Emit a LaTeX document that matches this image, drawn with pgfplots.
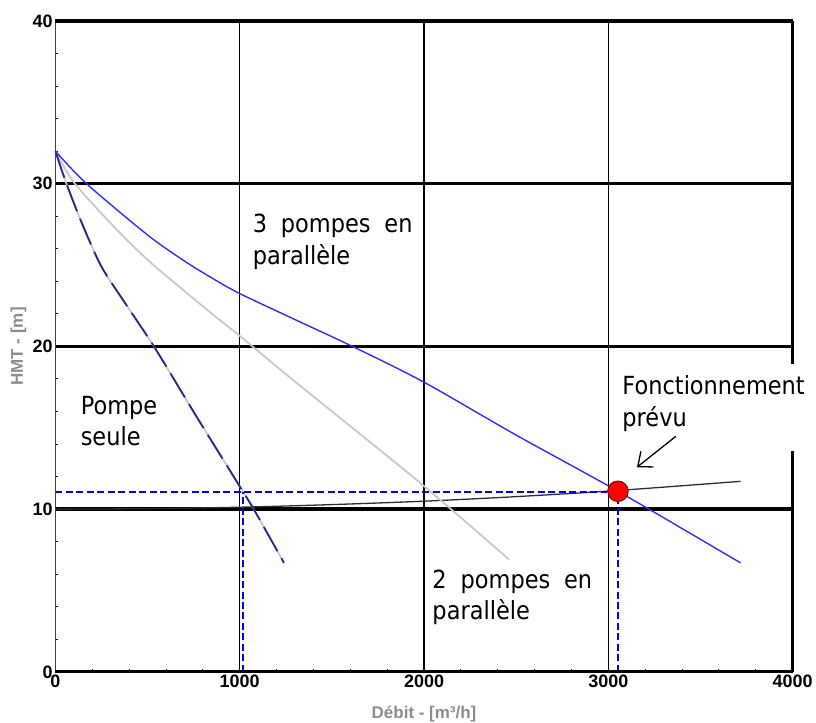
\documentclass[border=0pt]{standalone}
\usepackage{fontspec}
\usepackage{pgfplots}
\pgfplotsset{compat=1.18}
\usetikzlibrary{arrows.meta}
\newfontfamily\lsans{Liberation Sans}
\newfontfamily\annfont[FakeStretch=0.9]{DejaVu Sans}
\definecolor{bluec}{RGB}{45,45,255}
\definecolor{grayc}{RGB}{200,200,200}
\definecolor{navyc}{RGB}{40,40,140}
\definecolor{sysc}{RGB}{45,45,45}
\definecolor{labelgray}{RGB}{140,140,140}
\definecolor{dashblue}{RGB}{0,0,255}
\begin{document}
\begin{tikzpicture}
\path (-55.5pt,-51pt) rectangle (760.5pt,673pt);
\begin{axis}[
  scale only axis, width=738.5pt, height=652pt,
  xmin=0, xmax=4000, ymin=0, ymax=40,
  xtick={0,1000,2000,3000,4000}, xticklabels={0,1000,2000,3000,4000},
  ytick={0,10,20,30,40}, yticklabels={0,10,20,30,40},
  minor x tick num=4, minor y tick num=4,
  xtick pos=bottom, ytick pos=left,
  tick align=inside, major tick length=0pt, minor tick length=3pt,
  tick style={black, line width=1pt},
  axis line style={draw=none},
  ticklabel style={font=\lsans\bfseries\fontsize{18}{18}\selectfont, text=black},
  yticklabel style={inner xsep=2.5pt},
  clip=false,
]
% grid
\draw[black, line width=1.4pt] (1000,0) -- (1000,40);
\draw[black, line width=1.4pt] (3000,0) -- (3000,40);
\draw[black, line width=2.5pt] (2000,0) -- (2000,40);
\draw[black, line width=2.5pt] (0,20) -- (4000,20);
\draw[black, line width=2.5pt] (0,30) -- (4000,30);
\draw[black, line width=3.5pt] (0,10) -- (4000,10);
% system curve
\addplot[sysc, line width=1.3pt, smooth] coordinates {
 (0,10) (500,10.03) (1000,10.12) (1500,10.28) (2000,10.49) (2500,10.77) (3052,11.15) (3717,11.71)};
% 2 pompes en parallele
\addplot[grayc, line width=1.8pt, smooth] coordinates {
 (0,32) (106,30) (331,27.2) (512,25.2) (690,23.5) (850,22.0) (1000,20.65) (1250,18.3) (1523,15.8) (1991,11.5) (2462,6.9)};
% pompe seule (grey under navy dashes)
\addplot[grayc, line width=1.8pt, smooth] coordinates {
 (0,32) (60,30) (150,27.4) (250,24.9) (370,22.8) (540,19.9) (765,15.7) (1000,11.4) (1081,9.9) (1240,6.7)};
\addplot[navyc, line width=1.8pt, smooth, dash pattern=on 28pt off 8pt] coordinates {
 (0,32) (60,30) (150,27.4) (250,24.9) (370,22.8) (540,19.9) (765,15.7) (1000,11.4) (1081,9.9) (1240,6.7)};
% 3 pompes en parallele
\addplot[bluec, line width=1.4pt, smooth] coordinates {
 (0,32) (169,30) (500,26.85) (700,25.25) (850,24.2) (1000,23.25) (1300,21.65) (1612,20) (2000,17.8) (2500,14.55) (3052,11.1) (3717,6.7)};
% dashed projections
\addplot[dashblue, line width=1.6pt, dash pattern=on 7pt off 3.5pt] coordinates {(0,11.05) (3052,11.05)};
\addplot[dashblue, line width=1.4pt, dash pattern=on 7pt off 3.5pt] coordinates {(1017,0) (1017,11.05)};
\addplot[dashblue, line width=1.4pt, dash pattern=on 7pt off 3.5pt] coordinates {(3052,0) (3052,11.05)};
% frame
\draw[black!75, line width=1.2pt] (0,0) -- (0,40);
\draw[black, line width=3.5pt] (0,40) -- (4000,40);
\draw[black, line width=2.8pt] (0,0) -- (4000,0);
\draw[black, line width=2.5pt] (4000,0) -- (4000,40);
% operating point
\addplot[only marks, mark=*, mark size=10.3pt, mark options={fill=red, draw=black!55!red, line width=0.9pt}] coordinates {(3052,11.1)};
\end{axis}
% white box over frame (as in reference)
\fill[white] (558.5pt,221pt) rectangle (757pt,308pt);
% labels
\node[rotate=90, anchor=base, inner sep=0pt, text=labelgray, font=\lsans\bfseries\fontsize{17}{17}\selectfont] at (-32.5pt,326pt) {HMT - [m]};
\node[anchor=base, inner sep=0pt, text=labelgray, font=\lsans\bfseries\fontsize{17}{17}\selectfont] at (369.25pt,-47pt) {Débit - [m³/h]};
% annotations
\begin{scope}[every node/.style={anchor=base west, inner sep=0pt, font=\annfont\fontsize{25}{30}\selectfont}]
\node at (197.5pt,439.7pt) {\makebox[160pt][s]{3 pompes en}};
\node at (197.5pt,408pt) {parallèle};
\node at (25.2pt,258pt) {Pompe};
\node at (25.2pt,226.3pt) {seule};
\node at (377.5pt,83.7pt) {\makebox[160pt][s]{2 pompes en}};
\node at (377.5pt,52pt) {parallèle};
\node at (567.8pt,278pt) {Fonctionnement};
\node at (567.8pt,245.7pt) {prévu};
\end{scope}
\draw[black, line width=1.3pt, -{Straight Barb[length=12pt,width=20pt]}] (621.5pt,236pt) -- (582.5pt,205pt);
\end{tikzpicture}
\end{document}
